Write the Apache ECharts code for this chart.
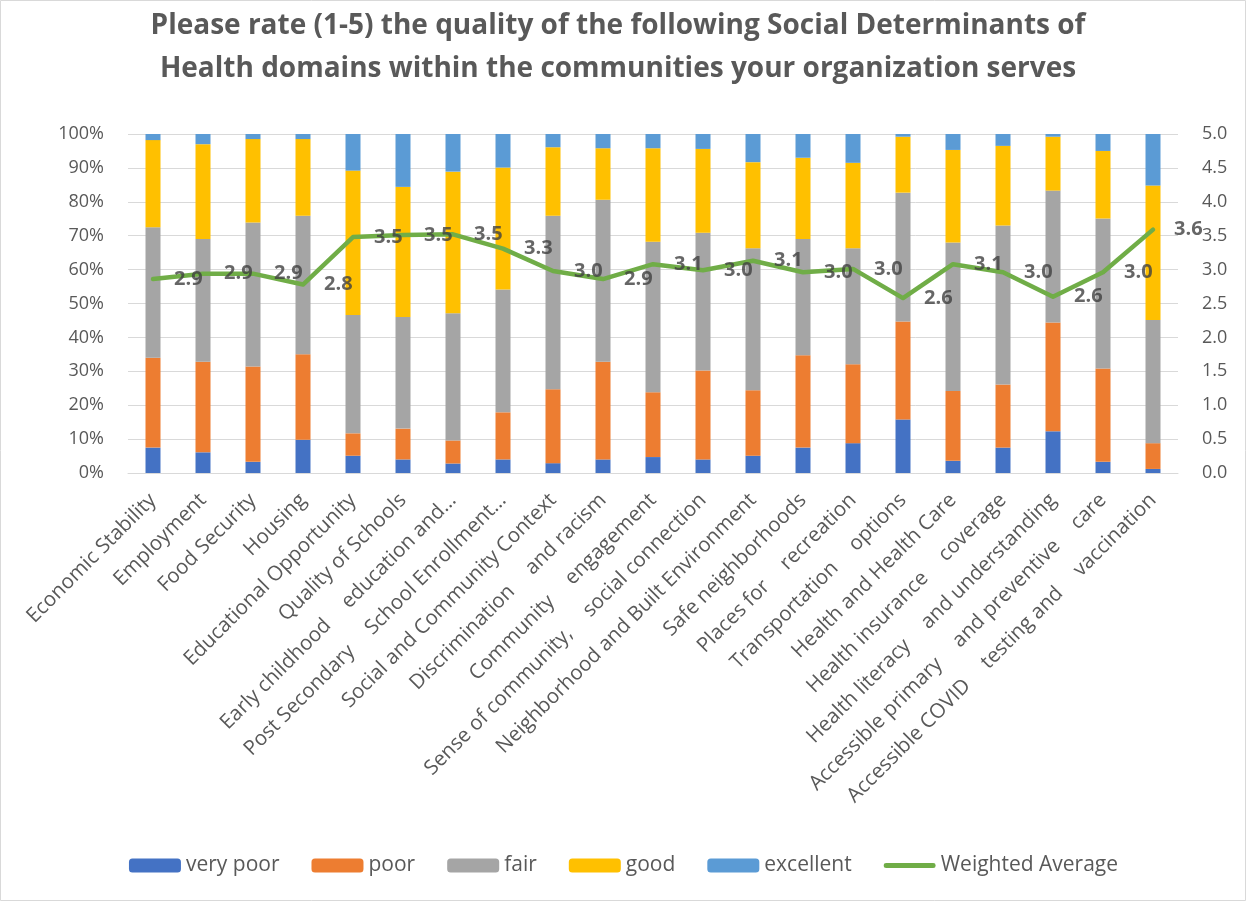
<!DOCTYPE html>
<html>
<head>
<meta charset="utf-8">
<script src="https://cdn.jsdelivr.net/npm/echarts@6/dist/echarts.min.js"></script>
<style>html,body{margin:0;padding:0;background:#fff}#c{width:1247px;height:902px}</style>
</head>
<body>
<div id="c"></div>
<script>
const categories = [
  "Economic Stability", "Employment", "Food Security", "Housing",
  "Educational Opportunity", "Quality of Schools", "Early childhood\neducation and…",
  "Post Secondary\nSchool Enrollment…", "Social and Community Context",
  "Discrimination\nand racism", "Community\nengagement", "Sense of community,\nsocial connection",
  "Neighborhood and Built Environment", "Safe neighborhoods", "Places for\nrecreation",
  "Transportation\noptions", "Health and Health Care", "Health insurance\ncoverage",
  "Health literacy\nand understanding", "Accessible primary\nand preventive\ncare",
  "Accessible COVID\ntesting and\nvaccination"
];
const veryPoor = [7.5, 6.1, 3.3, 9.8, 5.1, 4.0, 2.8, 4.0, 2.9, 4.0, 4.7, 4.0, 5.1, 7.5, 8.8, 15.8, 3.6, 7.5, 12.3, 3.3, 1.2];
const poor     = [26.5, 26.7, 28.1, 25.2, 6.6, 9.1, 6.8, 13.9, 21.8, 28.8, 19.1, 26.2, 19.3, 27.2, 23.3, 28.9, 20.6, 18.6, 32.1, 27.5, 7.6];
const fair     = [38.5, 36.2, 42.5, 40.9, 34.9, 32.9, 37.5, 36.2, 51.2, 47.8, 44.4, 40.7, 41.9, 34.3, 34.2, 38.0, 43.8, 46.9, 38.9, 44.3, 36.3];
const good     = [25.7, 28.0, 24.6, 22.6, 42.6, 38.4, 41.8, 36.0, 20.2, 15.2, 27.6, 24.7, 25.4, 24.0, 25.2, 16.5, 27.3, 23.5, 15.9, 19.9, 39.7];
const excellent= [1.8, 3.0, 1.5, 1.5, 10.8, 15.6, 11.1, 9.9, 3.9, 4.2, 4.2, 4.4, 8.3, 7.0, 8.5, 0.8, 4.7, 3.5, 0.8, 5.0, 15.2];
const weightedAverage = [2.86, 2.94, 2.94, 2.78, 3.48, 3.51, 3.52, 3.31, 2.98, 2.86, 3.08, 2.99, 3.13, 2.96, 3.01, 2.58, 3.08, 2.96, 2.60, 2.96, 3.59];
const leftTicks = [0, 10, 20, 30, 40, 50, 60, 70, 80, 90, 100];
const rightTicks = [0, 0.5, 1, 1.5, 2, 2.5, 3, 3.5, 4, 4.5, 5];
const seriesNames = ["very poor", "poor", "fair", "good", "excellent", "Weighted Average"];

const colors = ["#4472C4", "#ED7D31", "#A5A5A5", "#FFC000", "#5B9BD5", "#70AD47"];
const FONT = "Open Sans";
const TXT = "#595959";
const LINE_ICON = 'path://M0,0h0.01v0.01h-0.01zM52,14h0.01v0.01h-0.01zM2.5,4.5L49.5,4.5A2.5,2.5,0,0,1,49.5,9.5L2.5,9.5A2.5,2.5,0,0,1,2.5,4.5z';

const chart = echarts.init(document.getElementById('c'));
const barData = [veryPoor, poor, fair, good, excellent];
const series = barData.map((d, i) => ({
  name: seriesNames[i], type: 'bar', stack: 'all', barWidth: 15,
  data: d, itemStyle: { color: colors[i] }, yAxisIndex: 0
}));
series.push({
  name: seriesNames[5], type: 'line', yAxisIndex: 1, data: weightedAverage,
  symbol: 'none', z: 10,
  lineStyle: { color: colors[5], width: 4.5, join: 'round', cap: 'round' },
  itemStyle: { color: colors[5] }
});
series.push({
  name: 'avg-labels', type: 'scatter', yAxisIndex: 1, data: weightedAverage,
  symbolSize: 0, z: 11, silent: true,
  itemStyle: { color: 'rgba(0,0,0,0)' },
  label: {
    show: true, position: 'right', distance: 21,
    formatter: p => p.value.toFixed(1),
    fontFamily: FONT, fontWeight: 'bold', fontSize: 20, color: '#404040'
  }
});

const legendData = seriesNames.map((n, i) => i === 5 ? { name: n, icon: LINE_ICON } : { name: n });

chart.setOption({
  animation: false,
  backgroundColor: '#fff',
  title: {
    text: 'Please rate (1-5) the quality of the following Social Determinants of\nHealth domains within the communities your organization serves',
    left: 613, top: 0, textAlign: 'center',
    textStyle: { fontFamily: FONT, fontWeight: 'bold', fontSize: 28, lineHeight: 43, color: TXT }
  },
  legend: {
    bottom: 21, left: 'center', itemWidth: 52, itemHeight: 14, itemGap: 32,
    data: legendData,
    textStyle: { fontFamily: FONT, fontSize: 21, color: TXT }
  },
  grid: { left: 128, right: 69, top: 134, bottom: 429, containLabel: false },
  xAxis: {
    type: 'category', data: categories,
    axisTick: { show: false },
    axisLine: { lineStyle: { color: '#D9D9D9', width: 1 } },
    axisLabel: {
      interval: 0, rotate: 45, margin: 24,
      fontFamily: FONT, fontSize: 20.5, color: TXT,
      formatter: v => v.split('\n').join('{g| }'),
      rich: { g: { width: 24, fontSize: 20.5 } }
    }
  },
  yAxis: [
    {
      type: 'value', min: 0, max: 100, interval: 10,
      axisLabel: { formatter: '{value}%', margin: 24, fontFamily: FONT, fontSize: 18, color: TXT },
      splitLine: { lineStyle: { color: '#D9D9D9', width: 1 } },
      axisLine: { show: false }, axisTick: { show: false }
    },
    {
      type: 'value', min: 0, max: 5, interval: 0.5,
      axisLabel: { formatter: v => v.toFixed(1), margin: 24, fontFamily: FONT, fontSize: 18, color: TXT },
      splitLine: { show: false }, axisLine: { show: false }, axisTick: { show: false }
    }
  ],
  graphic: [{
    type: 'rect', shape: { x: 0.5, y: 0.5, width: 1245, height: 900 },
    style: { fill: 'none', stroke: '#D9D9D9', lineWidth: 1 }, silent: true
  }],
  series: series
});
</script>
</body>
</html>
